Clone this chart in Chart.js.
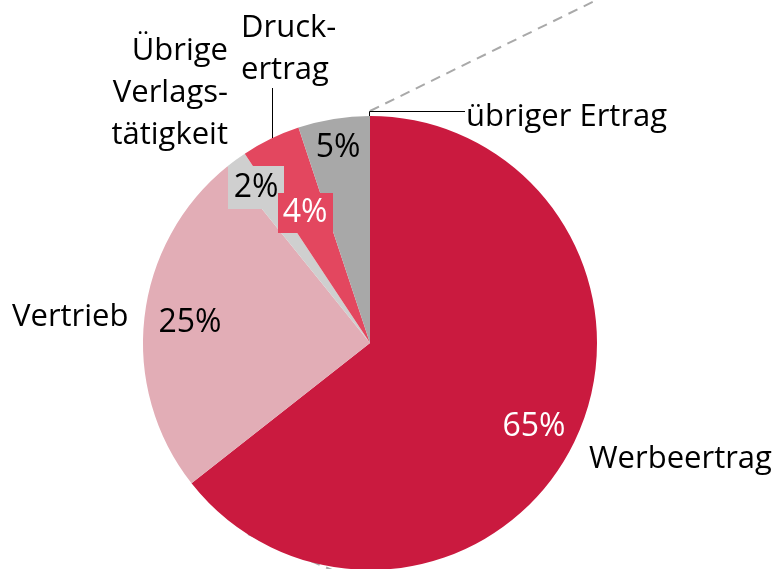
<!DOCTYPE html>
<html>
<head>
<meta charset="utf-8">
<script src="https://cdn.jsdelivr.net/npm/chart.js@4"></script>
<style>
  html, body { margin: 0; padding: 0; background: #fff; overflow: hidden; }
  #wrap { width: 777px; height: 580px; }
</style>
</head>
<body>
<div id="wrap"><canvas id="chart" width="777" height="580"></canvas></div>
<script>
// data (share of revenue, clockwise from 12 o'clock)
const categories = ["Werbeertrag", "Vertrieb", "Übrige Verlagstätigkeit", "Druckertrag", "übriger Ertrag"];
const shares = [64.4, 24.8, 1.5, 4.2, 5.1];
const shareLabels = ["65%", "25%", "2%", "4%", "5%"];

const colors = ["#CA1A3F", "#E2ADB6", "#CFCFCF", "#E3475F", "#A8A8A8"];
const FONT = "'Open Sans', sans-serif";

// text placement (pixels)
const pctPos = [
  { x: 534, y: 427, color: "#fff", box: null },
  { x: 190, y: 323, color: "#000", box: null },
  { x: 256, y: 188, color: "#000", box: { x: 228, y: 166, w: 56, h: 43 } },
  { x: 305, y: 213, color: "#fff", box: { x: 278, y: 193, w: 55, h: 40 } },
  { x: 338, y: 148, color: "#000", box: null }
];
const namePos = [
  { lines: ["Werbeertrag"], x: 589, y: 468, align: "left" },
  { lines: ["Vertrieb"], x: 12, y: 326, align: "left" },
  { lines: ["Übrige", "Verlags-", "tätigkeit"], x: 228, y: 60, align: "right" },
  { lines: ["Druck-", "ertrag"], x: 241, y: 37, align: "left" },
  { lines: ["übriger Ertrag"], x: 466, y: 126, align: "left" }
];

const overlay = {
  id: "overlay",
  beforeDatasetsDraw(chart) {
    const ctx = chart.ctx;
    const arc = chart.getDatasetMeta(0).data[0];
    const cx = arc.x, cy = arc.y, r = arc.outerRadius;
    ctx.save();
    ctx.strokeStyle = "#A9A9A9";
    ctx.lineWidth = 2;
    ctx.setLineDash([10, 7]);
    // connector lines towards the (cut off) detail chart
    ctx.beginPath();
    ctx.moveTo(cx, cy - r - 5);
    ctx.lineTo(cx + 300, cy - r - 5 - 147);
    ctx.stroke();
    ctx.beginPath();
    ctx.moveTo(248, 534);
    ctx.lineTo(600, 685);
    ctx.stroke();
    ctx.restore();
  },
  afterDatasetsDraw(chart) {
    const ctx = chart.ctx;
    const arc = chart.getDatasetMeta(0).data[0];
    const cx = arc.x, cy = arc.y, r = arc.outerRadius;
    ctx.save();
    // leader lines
    ctx.strokeStyle = "#000";
    ctx.lineWidth = 1;
    ctx.beginPath();
    ctx.moveTo(cx - 0.5, cy - r);
    ctx.lineTo(cx - 0.5, cy - r - 4.5);
    ctx.lineTo(465, cy - r - 4.5);
    ctx.stroke();
    ctx.beginPath();
    ctx.moveTo(272.5, 88);
    ctx.lineTo(272.5, 138);
    ctx.stroke();

    // percentage labels
    ctx.font = "32px " + FONT;
    ctx.textAlign = "center";
    ctx.textBaseline = "middle";
    shareLabels.forEach((t, i) => {
      const p = pctPos[i];
      if (p.box) {
        ctx.fillStyle = colors[i];
        ctx.fillRect(p.box.x, p.box.y, p.box.w, p.box.h);
      }
      ctx.fillStyle = p.color;
      ctx.fillText(t, p.x, p.y);
    });

    // category names
    ctx.font = "31px " + FONT;
    ctx.textBaseline = "alphabetic";
    ctx.fillStyle = "#000";
    categories.forEach((c, i) => {
      const p = namePos[i];
      ctx.textAlign = p.align;
      p.lines.forEach((ln, k) => ctx.fillText(ln, p.x, p.y + k * 42));
    });
    ctx.restore();
  }
};

new Chart(document.getElementById("chart"), {
  type: "pie",
  data: {
    labels: categories,
    datasets: [{
      data: shares,
      backgroundColor: colors,
      borderWidth: 0
    }]
  },
  options: {
    responsive: false,
    animation: false,
    layout: { padding: { left: 143, right: 180, top: 116, bottom: 10 } },
    plugins: {
      legend: { display: false },
      tooltip: { enabled: false }
    }
  },
  plugins: [overlay]
});
</script>
</body>
</html>
